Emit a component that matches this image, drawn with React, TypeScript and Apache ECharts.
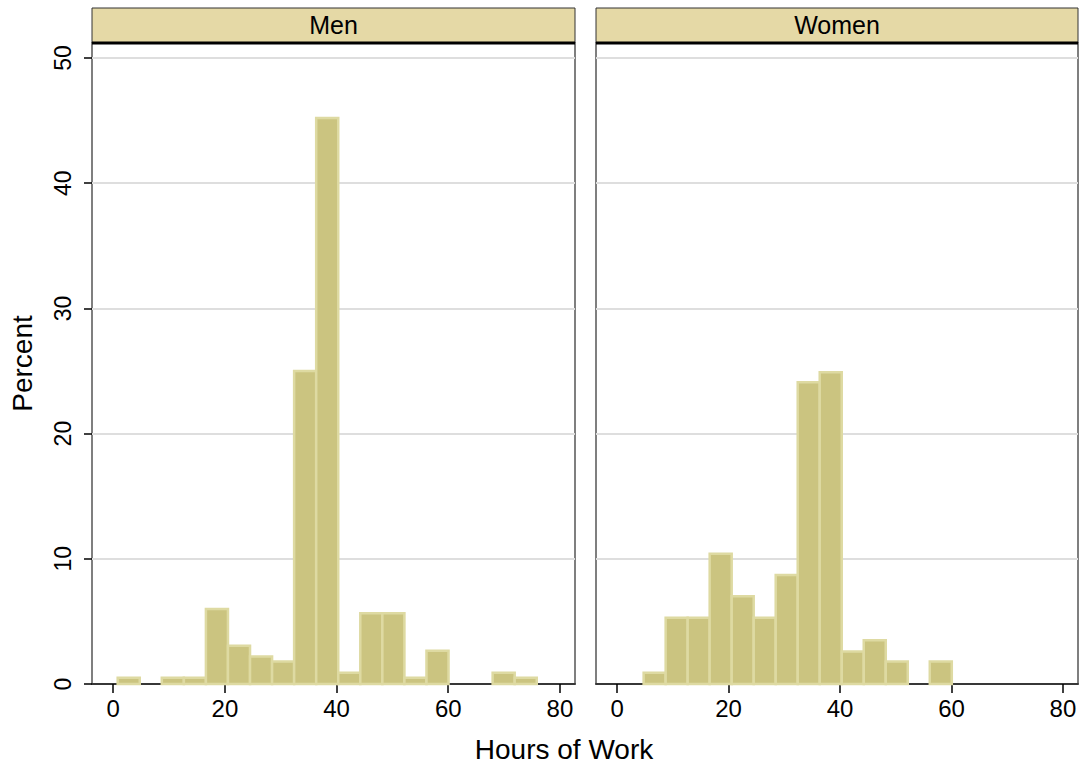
import React, { useEffect, useRef } from "react";
import * as echarts from "echarts";

const panels = ["Men", "Women"];
const binStart = 0.8;
const binWidth = 3.95;
const menPercent = [0.5, 0, 0.5, 0.5, 6.0, 3.05, 2.2, 1.8, 25.0, 45.2, 0.9, 5.65, 5.65, 0.5, 2.65, 0, 0, 0.9, 0.5];
const womenPercent = [0, 0.9, 5.3, 5.3, 10.4, 7.0, 5.3, 8.7, 24.1, 24.9, 2.6, 3.5, 1.8, 0, 1.8, 0, 0, 0, 0];
const xTicks = [0, 20, 40, 60, 80];
const yTicks = [0, 10, 20, 30, 40, 50];

const FONT = "Liberation Sans, Arial, sans-serif";

function toBins(values: number[]) {
  const out: number[][] = [];
  values.forEach((v, i) => {
    if (v > 0) out.push([binStart + i * binWidth, binStart + (i + 1) * binWidth, v]);
  });
  return out;
}

export default function App() {
  const ref = useRef<HTMLDivElement>(null);
  useEffect(() => {
    if (!ref.current) return;
    document.body.style.overflow = "hidden";
    const chart = echarts.init(ref.current, undefined, { renderer: "svg" });
    const gridsPx = [
      { left: 92, right: 575 },
      { left: 596, right: 1078 },
    ];
    const top = 43;
    const bottom = 684;

    const renderItem = (params: any, api: any) => {
      const x0 = api.value(0);
      const x1 = api.value(1);
      const h = api.value(2);
      const p0 = api.coord([x0, 0]);
      const p1 = api.coord([x1, h]);
      return {
        type: "rect",
        shape: { x: p0[0], y: p1[1], width: p1[0] - p0[0], height: p0[1] - p1[1] },
        style: { fill: "#cbc480", stroke: "#dedaa2", lineWidth: 2.5 },
      };
    };

    const graphic: any[] = [];
    gridsPx.forEach((g, i) => {
      graphic.push({
        type: "rect",
        shape: { x: g.left, y: 8, width: g.right - g.left, height: top - 8 },
        style: { fill: "#e5d9a6", stroke: "#333", lineWidth: 1 },
        z: 100,
      });
      graphic.push({
        type: "line",
        shape: { x1: g.left, y1: top, x2: g.right, y2: top },
        style: { stroke: "#000", lineWidth: 3 },
        z: 101,
      });
      graphic.push({
        type: "text",
        x: (g.left + g.right) / 2,
        y: 25,
        style: {
          text: panels[i],
          fill: "#000",
          font: `25px ${FONT}`,
          textAlign: "center",
          textVerticalAlign: "middle",
        },
        z: 102,
      });
    });
    graphic.push({
      type: "text",
      x: 564,
      y: 749,
      style: {
        text: "Hours of Work",
        fill: "#000",
        font: `28px ${FONT}`,
        textAlign: "center",
        textVerticalAlign: "middle",
      },
      z: 102,
    });

    const option: any = {
      animation: false,
      backgroundColor: "#fff",
      grid: gridsPx.map((g) => ({
        left: g.left,
        width: g.right - g.left,
        top: top,
        height: bottom - top,
        show: true,
        borderColor: "#555",
        borderWidth: 1.5,
        backgroundColor: "transparent",
      })),
      xAxis: gridsPx.map((g, i) => ({
        type: "value",
        gridIndex: i,
        min: -3.8,
        max: 82.7,
        splitLine: { show: false },
        axisLine: { show: true, onZero: false, lineStyle: { color: "#000", width: 1.5 } },
        axisTick: { show: true, length: 9, customValues: xTicks, lineStyle: { color: "#000", width: 1.5 } },
        axisLabel: { customValues: xTicks, color: "#000", fontSize: 24, fontFamily: FONT, margin: 12 },
      })),
      yAxis: gridsPx.map((g, i) => ({
        type: "value",
        gridIndex: i,
        min: 0,
        max: 51.2,
        interval: 10,
        name: i === 0 ? "Percent" : "",
        nameLocation: "middle",
        nameGap: 56,
        nameTextStyle: { color: "#000", fontSize: 28, fontFamily: FONT },
        splitLine: { show: true, lineStyle: { color: "#dedede", width: 2 } },
        axisLine: { show: false, onZero: false },
        axisTick: { show: i === 0, length: 8, customValues: yTicks, lineStyle: { color: "#000", width: 1.5 } },
        axisLabel: {
          show: i === 0,
          customValues: yTicks,
          rotate: 90,
          color: "#000",
          fontSize: 23,
          fontFamily: FONT,
          margin: 18,
        },
      })),
      series: [menPercent, womenPercent].map((vals, i) => ({
        type: "custom",
        xAxisIndex: i,
        yAxisIndex: i,
        renderItem,
        encode: { x: [0, 1], y: 2 },
        data: toBins(vals),
      })),
      graphic,
    };
    chart.setOption(option);
    return () => chart.dispose();
  }, []);
  return (
    <div
      ref={ref}
      style={{ position: "fixed", left: 0, top: 0, width: 1081, height: 769 }}
    />
  );
}
